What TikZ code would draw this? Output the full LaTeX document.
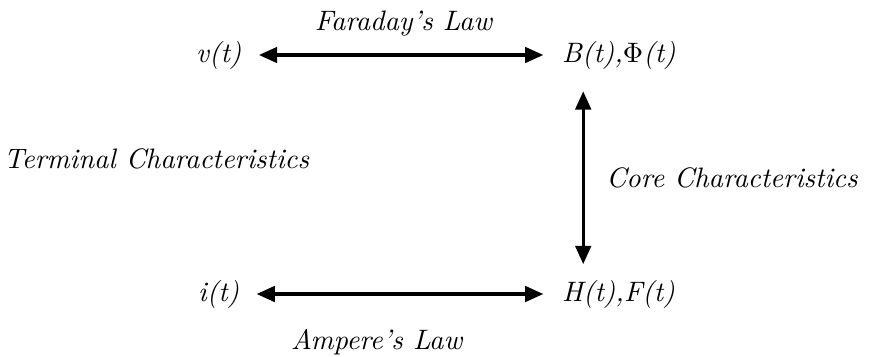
\documentclass[tikz,border=0pt]{standalone}
\usepackage{amsmath}
\usetikzlibrary{arrows.meta, positioning}
\tikzstyle{quantity} = [font=\normalsize\itshape, inner sep=2pt]
\tikzstyle{law} = [font=\normalsize\itshape]
\tikzstyle{arrow} = [line width=1.2pt, {Triangle[length=6.5pt,width=5.5pt]}-{Triangle[length=6.5pt,width=5.5pt]}]

\begin{document}
\begin{tikzpicture}[x=0.0125cm, y=-0.0125cm]
    \useasboundingbox (0,0) rectangle (887,356);

    % Electrical quantities
    \node[quantity, anchor=west] (volt) at (190,55) {v(t)};
    \node[quantity, anchor=west] (curr) at (192,294) {i(t)};

    % Magnetic quantities
    \node[quantity, anchor=west] (flux) at (556,55) {B(t),$\Phi$(t)};
    \node[quantity, anchor=west] (field) at (556,294) {H(t),F(t)};

    % Laws
    \draw[arrow, shorten <=4pt, shorten >=4.5pt] (volt) -- node[law, above=0.1cm, xshift=0.02cm] (faraday) {Faraday's Law} (flux);
    \draw[arrow, shorten <=4pt, shorten >=4.5pt] (curr) -- node[law, below=0.3cm, xshift=-0.3cm] (ampere) {Ampere's Law} (field);

    % Core side
    \draw[arrow] ([xshift=0.34cm, yshift=-0.2cm]flux.south west) -- node[law, right=0.15cm] (core) {Core Characteristics} ([xshift=0.34cm, yshift=0.12cm]field.north west);

    % Terminal side
    \node[law, anchor=west] (terminal) at (-6,159) {Terminal Characteristics};

\end{tikzpicture}
\end{document}
